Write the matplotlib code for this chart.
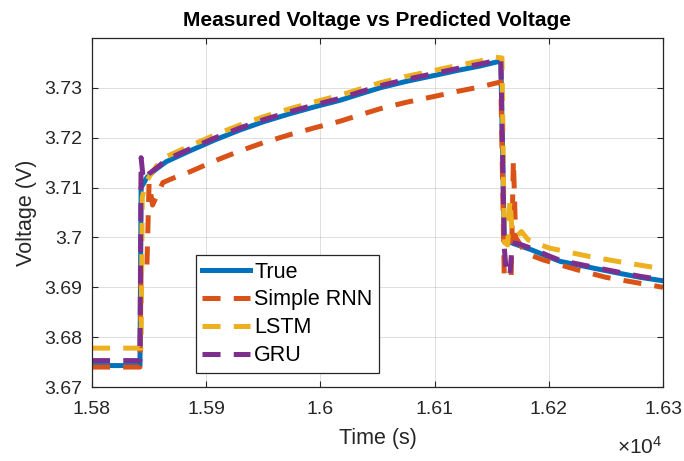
import matplotlib
matplotlib.use("Agg")
import matplotlib.pyplot as plt
from matplotlib.ticker import FuncFormatter, MultipleLocator

plt.rcParams['font.family'] = ['Liberation Sans', 'DejaVu Sans']
plt.rcParams['mathtext.fontset'] = 'custom'
plt.rcParams['mathtext.rm'] = 'Liberation Sans'
plt.rcParams['lines.scale_dashes'] = False

# measured voltage
t_true = [15800, 15842, 15843, 15848, 15855, 15865, 15886, 15908, 15930, 15950,
          15973, 15995, 16017, 16035, 16052, 16075, 16100, 16120, 16140, 16158,
          16161, 16170, 16185, 16200, 16210, 16225, 16240, 16262, 16280, 16300]
v_true = [3.6743, 3.6743, 3.7100, 3.7120, 3.7135, 3.7152, 3.7174, 3.7196, 3.7216, 3.7232,
          3.7248, 3.7262, 3.7275, 3.7288, 3.7300, 3.7313, 3.7325, 3.7335, 3.7344, 3.7354,
          3.6995, 3.6987, 3.6975, 3.6961, 3.6952, 3.6945, 3.6938, 3.6928, 3.6920, 3.6913]

# simple RNN prediction
t_rnn = [15800, 15842, 15843, 15848, 15850, 15853, 15857, 15862, 15870, 15886,
         15908, 15930, 15950, 15973, 15995, 16017, 16035, 16052, 16075, 16100,
         16120, 16140, 16158, 16161, 16167, 16169, 16171, 16180, 16195, 16225,
         16250, 16280, 16300]
v_rnn = [3.6740, 3.6740, 3.6935, 3.6935, 3.7110, 3.7065, 3.7085, 3.7110, 3.7118, 3.7132,
         3.7154, 3.7174, 3.7190, 3.7206, 3.7220, 3.7233, 3.7246, 3.7258, 3.7271, 3.7283,
         3.7293, 3.7302, 3.7312, 3.6920, 3.6920, 3.7155, 3.7000, 3.6968, 3.6955, 3.6935,
         3.6920, 3.6908, 3.6900]

# LSTM prediction
t_lstm = [15800, 15843, 15844, 15847, 15851, 15857, 15865, 15886, 15908, 15930,
          15950, 15973, 15995, 16017, 16035, 16052, 16075, 16100, 16120, 16140,
          16152, 16159, 16161, 16164, 16166, 16168, 16172, 16176, 16182, 16200,
          16235, 16265, 16300]
v_lstm = [3.6778, 3.6778, 3.7080, 3.7110, 3.7125, 3.7145, 3.7162, 3.7184, 3.7206, 3.7226,
          3.7242, 3.7258, 3.7272, 3.7285, 3.7298, 3.7310, 3.7323, 3.7335, 3.7345, 3.7354,
          3.7362, 3.7360, 3.6990, 3.6985, 3.7075, 3.7005, 3.7002, 3.7012, 3.6995, 3.6979,
          3.6962, 3.6950, 3.6937]

# GRU prediction
t_gru = [15800, 15842, 15843, 15845, 15850, 15857, 15865, 15886, 15908, 15930,
         15950, 15973, 15995, 16017, 16035, 16052, 16075, 16100, 16120, 16140,
         16158, 16161, 16163, 16166, 16168, 16175, 16185, 16200, 16210, 16225,
         16240, 16262, 16280, 16300]
v_gru = [3.6753, 3.6753, 3.7160, 3.7115, 3.7128, 3.7140, 3.7156, 3.7178, 3.7200, 3.7220,
         3.7236, 3.7252, 3.7266, 3.7279, 3.7292, 3.7304, 3.7317, 3.7329, 3.7339, 3.7348,
         3.7357, 3.6980, 3.6925, 3.6925, 3.6990, 3.6986, 3.6978, 3.6963, 3.6954, 3.6947,
         3.6940, 3.6930, 3.6922, 3.6915]

labels = ['True', 'Simple RNN', 'LSTM', 'GRU']
colors = ['#0072BD', '#D95319', '#EDB120', '#7E2F8E']
y_ticks = [3.67, 3.68, 3.69, 3.70, 3.71, 3.72, 3.73]

fig = plt.figure(figsize=(6.84, 4.61), dpi=100)
ax = fig.add_axes([0.1345, 0.1605, 0.8348, 0.757])

lw = 3.6
dash = (13, 9.5)
ax.plot(t_true, v_true, color=colors[0], lw=lw, label=labels[0])
ax.plot(t_rnn, v_rnn, color=colors[1], lw=lw, dashes=dash, label=labels[1])
ax.plot(t_lstm, v_lstm, color=colors[2], lw=lw, dashes=dash, label=labels[2])
ax.plot(t_gru, v_gru, color=colors[3], lw=lw, dashes=dash, label=labels[3])

ax.set_xlim(15800, 16300)
ax.set_ylim(3.67, 3.74)
ax.xaxis.set_major_locator(MultipleLocator(100))
ax.set_yticks(y_ticks)
ax.xaxis.set_major_formatter(FuncFormatter(lambda v, p: '%g' % round(v / 1e4, 4)))
ax.yaxis.set_major_formatter(FuncFormatter(lambda v, p: '%g' % round(v, 4)))

ax.grid(True, color='#262626', alpha=0.15, lw=0.7)
ax.set_axisbelow(True)
for s in ax.spines.values():
    s.set_color('#262626')
    s.set_linewidth(0.9)
ax.tick_params(direction='in', length=4.5, width=0.8, colors='#262626',
               labelsize=14, top=True, right=True)
ax.tick_params(axis='x', pad=10)
ax.tick_params(axis='y', pad=7)

ax.set_title('Measured Voltage vs Predicted Voltage', fontsize=15,
             fontweight='bold', pad=9)
ax.set_xlabel('Time (s)', fontsize=15.5, color='#262626', labelpad=7)
ax.set_ylabel('Voltage (V)', fontsize=15.5, color='#262626', labelpad=5)

fig.text(0.968, 0.008, r'$\times\mathregular{10^{4}}$', fontsize=15,
         color='#262626', ha='right', va='bottom')

leg = ax.legend(loc='upper left', bbox_to_anchor=(0.182, 0.378), borderaxespad=0,
                fontsize=15.5, handlelength=2.2, handletextpad=0.2,
                labelspacing=0.32, fancybox=False, framealpha=1,
                edgecolor='#262626', borderpad=0.3)
leg.get_frame().set_linewidth(0.9)

fig.savefig('out.png', dpi=100)
